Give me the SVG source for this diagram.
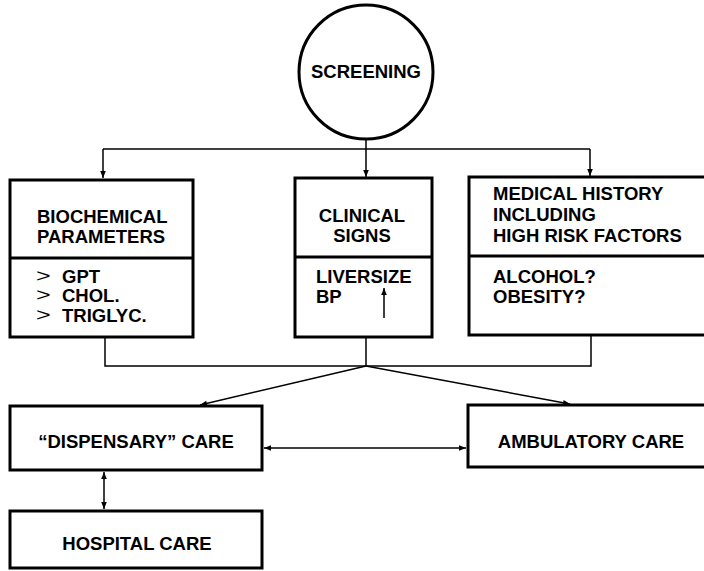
<svg xmlns="http://www.w3.org/2000/svg" width="704" height="571" viewBox="0 0 704 571">
<style>
.box{fill:#fff;stroke:#000;stroke-width:3}
.div{stroke:#000;stroke-width:3}
.ln{fill:none;stroke:#000;stroke-width:1.5}
text{font-family:"Liberation Sans",Arial,sans-serif;font-weight:bold;font-size:18.5px;fill:#000}
.c{text-anchor:middle}
.gt{font-weight:normal;font-size:18px}
</style>
<defs>
<marker id="ah" viewBox="0 0 10 10" refX="10" refY="5" markerWidth="8" markerHeight="7" orient="auto-start-reverse" markerUnits="userSpaceOnUse">
<path d="M0,1 L10,5 L0,9 Z" fill="#000"/>
</marker>
</defs>
<rect width="704" height="571" fill="#fff"/>
<g id="connectors">
<path class="ln" d="M103,149 H590"/>
<path class="ln" d="M366,139 V177" marker-end="url(#ah)"/>
<path class="ln" d="M103,149 V178" marker-end="url(#ah)"/>
<path class="ln" d="M590,149 V176" marker-end="url(#ah)"/>
<path class="ln" d="M105,338 V366 H591 V336"/>
<path class="ln" d="M366,337 V366"/>
<path class="ln" d="M366,366 L200,405" marker-end="url(#ah)"/>
<path class="ln" d="M366,366 L570,404" marker-end="url(#ah)"/>
<path class="ln" d="M264,448 L466,448" marker-start="url(#ah)" marker-end="url(#ah)"/>
<path class="ln" d="M104,472 L104,509" marker-start="url(#ah)" marker-end="url(#ah)"/>
</g>
<g id="screening">
<circle cx="366" cy="72" r="67" fill="#fff" stroke="#000" stroke-width="3"/>
<text class="c" x="366" y="78">SCREENING</text>
</g>
<g id="biochemical">
<rect class="box" x="10" y="180" width="183" height="157"/>
<line class="div" x1="10" y1="258" x2="193" y2="258"/>
<text x="37" y="223">BIOCHEMICAL</text>
<text x="37" y="243">PARAMETERS</text>
<text class="gt" transform="translate(36,282) scale(1.4,1)">&gt;</text>
<text x="62" y="283">GPT</text>
<text class="gt" transform="translate(36,301) scale(1.4,1)">&gt;</text>
<text x="62" y="302">CHOL.</text>
<text class="gt" transform="translate(36,321) scale(1.4,1)">&gt;</text>
<text x="62" y="322">TRIGLYC.</text>
</g>
<g id="clinical">
<rect class="box" x="295" y="178" width="137" height="159"/>
<line class="div" x1="295" y1="257" x2="432" y2="257"/>
<text class="c" x="362" y="222">CLINICAL</text>
<text class="c" x="362" y="242">SIGNS</text>
<text x="316" y="283">LIVERSIZE</text>
<text x="316" y="303">BP</text>
<path class="ln" d="M384,318 V288" marker-end="url(#ah)"/>
</g>
<g id="history">
<rect class="box" x="469" y="177" width="245" height="158"/>
<line class="div" x1="469" y1="256" x2="710" y2="256"/>
<text x="493" y="200">MEDICAL HISTORY</text>
<text x="493" y="221">INCLUDING</text>
<text x="493" y="242">HIGH RISK FACTORS</text>
<text x="493" y="283">ALCOHOL?</text>
<text x="493" y="303">OBESITY?</text>
</g>
<g id="dispensary">
<rect class="box" x="10" y="406" width="252" height="64"/>
<text class="c" x="136" y="448">“DISPENSARY” CARE</text>
</g>
<g id="ambulatory">
<rect class="box" x="468" y="405" width="246" height="62"/>
<text class="c" x="591" y="448">AMBULATORY CARE</text>
</g>
<g id="hospital">
<rect class="box" x="10" y="511" width="252" height="57"/>
<text class="c" x="137" y="550">HOSPITAL CARE</text>
</g>
</svg>
